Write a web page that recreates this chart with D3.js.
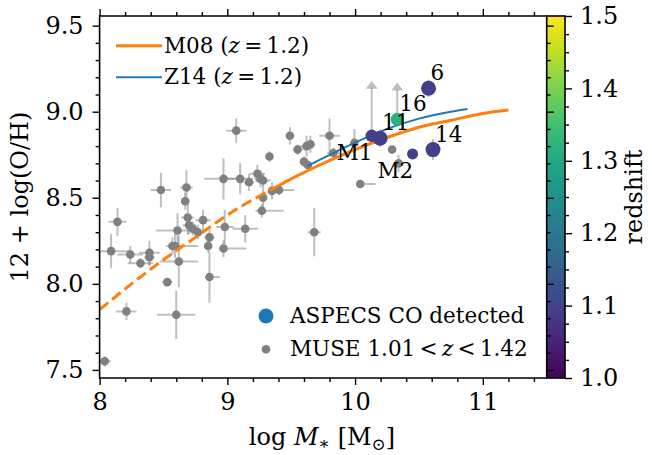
<!DOCTYPE html>
<html>
<head>
<meta charset="utf-8">
<script src="https://cdn.jsdelivr.net/npm/d3@7"></script>
<style>
  body { margin: 0; background: #fff; }
  svg text { font-family: "DejaVu Serif", serif; fill: #000; }
</style>
</head>
<body>
<svg id="chart" width="652" height="455"></svg>
<script>
// MUSE galaxies, 1.01 < z < 1.42
const museX = [9.07, 9.49, 9.55, 9.62, 9.65, 9.80, 9.995, 9.33, 9.60, 9.63, 9.83, 10.29, 10.34, 10.04,
  8.97, 9.10, 9.17, 9.235, 9.26, 9.28, 9.35, 9.405, 9.28, 9.27, 8.48, 8.68, 8.67, 8.14, 8.69, 8.81,
  8.61, 8.70, 8.73, 8.77, 8.86, 8.85, 8.98, 8.97, 9.14, 9.68, 8.09, 8.24, 8.32, 8.39, 8.39, 8.57,
  8.59, 8.62, 8.53, 8.21, 8.60, 8.04, 8.86];
const museY = [8.89, 8.86, 8.78, 8.80, 8.81, 8.86, 8.82, 8.74, 8.71, 8.69, 8.76, 8.78, 8.70, 8.58,
  8.61, 8.61, 8.59, 8.64, 8.61, 8.60, 8.54, 8.545, 8.50, 8.425, 8.545, 8.56, 8.48, 8.36, 8.385, 8.37,
  8.31, 8.34, 8.32, 8.30, 8.27, 8.22, 8.33, 8.205, 8.32, 8.30, 8.19, 8.17, 8.12, 8.18, 8.155, 8.22,
  8.22, 8.13, 8.01, 7.84, 7.82, 7.55, 8.04];
const museXerrLo = [0.08, 0.03, 0.04, 0.05, 0.04, 0.08, 0.03, 0.03, 0.03, 0.03, 0.05, 0.03, 0.03, 0.0,
  0.15, 0.10, 0.04, 0.06, 0.05, 0.06, 0.03, 0.03, 0.03, 0.05, 0.08, 0.05, 0.03, 0.07, 0.05, 0.06,
  0.17, 0.05, 0.04, 0.05, 0.04, 0.03, 0.07, 0.03, 0.10, 0.05, 0.15, 0.10, 0.10, 0.08, 0.04, 0.05,
  0.05, 0.15, 0.04, 0.08, 0.15, 0.05, 0.03];
const museXerrHi = [0.08, 0.03, 0.04, 0.05, 0.04, 0.08, 0.03, 0.03, 0.03, 0.03, 0.05, 0.03, 0.03, 0.12,
  0.15, 0.10, 0.04, 0.06, 0.05, 0.06, 0.03, 0.12, 0.03, 0.17, 0.08, 0.05, 0.03, 0.07, 0.05, 0.06,
  0.17, 0.05, 0.04, 0.05, 0.04, 0.03, 0.07, 0.18, 0.10, 0.05, 0.15, 0.10, 0.10, 0.08, 0.04, 0.20,
  0.05, 0.15, 0.04, 0.08, 0.15, 0.05, 0.08];
const museYerr = [0.07, 0.05, 0.03, 0.06, 0.05, 0.10, 0.08, 0.03, 0.03, 0.02, 0.03, 0.02, 0.05, 0.01,
  0.12, 0.09, 0.05, 0.05, 0.05, 0.04, 0.05, 0.03, 0.06, 0.04, 0.10, 0.10, 0.05, 0.08, 0.10, 0.06,
  0.10, 0.05, 0.04, 0.04, 0.05, 0.04, 0.10, 0.05, 0.08, 0.14, 0.10, 0.05, 0.03, 0.07, 0.05, 0.05,
  0.07, 0.15, 0.01, 0.05, 0.14, 0.03, 0.15];

// ASPECS CO detected galaxies
const aspecsId = ["6", "16", "11", "14", "M1", "M2"];
const aspecsX = [10.575, 10.33, 10.196, 10.61, 10.13, 10.45];
const aspecsY = [9.136, 8.956, 8.846, 8.78, 8.86, 8.755];
const aspecsZ = [1.095, 1.32, 1.09, 1.095, 1.09, 1.095];
const aspecsYerr = [0.05, 0, 0.05, 0.06, 0, 0];
const aspecsSize = [7.5, 6.5, 7.5, 7.5, 6.2, 5.5];

// lower-limit arrows
const arrowX = [10.13, 10.33];
const arrowFrom = [8.86, 8.956];
const arrowTo = [9.18, 9.17];

// relations at z = 1.2
const m08X = [8.0, 8.25, 8.5, 8.75, 9.0, 9.25, 9.4, 9.5, 9.75, 10.0, 10.25, 10.5, 10.75, 11.0, 11.2];
const m08Y = [7.85, 8.00, 8.14, 8.27, 8.40, 8.51, 8.57, 8.61, 8.70, 8.78, 8.85, 8.91, 8.95, 8.99, 9.01];
const m08DashEnd = 9.4;
const z14X = [9.63, 9.75, 10.0, 10.25, 10.5, 10.75, 10.88];
const z14Y = [8.685, 8.73, 8.82, 8.90, 8.96, 9.00, 9.016];

const xMajor = [8, 9, 10, 11];
const yMajor = [7.5, 8.0, 8.5, 9.0, 9.5];
const zMajor = [1.0, 1.1, 1.2, 1.3, 1.4, 1.5];

const svg = d3.select("#chart");
const pLeft = 99.6, pRight = 546.7, pTop = 16, pBottom = 378;
const cbLeft = 546.7, cbRight = 565;

const x = d3.scaleLinear().domain([8, 11.5]).range([pLeft, pRight]);
const y = d3.scaleLinear().domain([7.453, 9.556]).range([pBottom, pTop]);
const zc = d3.scaleLinear().domain([1.0, 1.5]).range([pBottom, pTop]);
const color = z => d3.interpolateViridis((z - 1.0) / 0.5);

const TICK_FONT = 24;
const LABEL_FONT = 24;
const LEGEND_FONT = 21.5;
const THIN = "\u2009";

const steps = (a, b, s) => d3.range(Math.round((b - a) / s) + 1).map(i => +(a + i * s).toFixed(4));
const near = (arr, v) => arr.some(m => Math.abs(m - v) < 1e-6);
const xMinor = steps(8, 11.4, 0.2).filter(v => !near(xMajor, v));
const yMinor = steps(7.5, 9.5, 0.1).filter(v => !near(yMajor, v));
const zMinor = steps(1.0, 1.5, 0.025).filter(v => !near(zMajor, v));

const plot = svg.append("g");
plot.append("clipPath").attr("id", "clip")
  .append("rect").attr("x", pLeft).attr("y", pTop)
  .attr("width", pRight - pLeft).attr("height", pBottom - pTop);
const inner = plot.append("g").attr("clip-path", "url(#clip)");

// error bars
const museIdx = d3.range(museX.length);
const eb = inner.append("g")
  .attr("stroke", "#808080").attr("stroke-opacity", 0.5).attr("stroke-width", 2);
museIdx.forEach(i => {
  eb.append("line")
    .attr("x1", x(museX[i] - museXerrLo[i])).attr("x2", x(museX[i] + museXerrHi[i]))
    .attr("y1", y(museY[i])).attr("y2", y(museY[i]));
  eb.append("line")
    .attr("x1", x(museX[i])).attr("x2", x(museX[i]))
    .attr("y1", y(museY[i] - museYerr[i])).attr("y2", y(museY[i] + museYerr[i]));
});
aspecsId.forEach((d, i) => {
  if (aspecsYerr[i] > 0) {
    eb.append("line")
      .attr("x1", x(aspecsX[i])).attr("x2", x(aspecsX[i]))
      .attr("y1", y(aspecsY[i] - aspecsYerr[i])).attr("y2", y(aspecsY[i] + aspecsYerr[i]));
  }
});

inner.append("g").selectAll("circle")
  .data(museIdx).join("circle")
  .attr("cx", i => x(museX[i])).attr("cy", i => y(museY[i]))
  .attr("r", 4.3).attr("fill", "#808080");

// relations
const line = d3.line().curve(d3.curveMonotoneX).x(d => x(d[0])).y(d => y(d[1]));
const m08 = m08X.map((v, i) => [v, m08Y[i]]);
inner.append("path")
  .datum(m08.filter(d => d[0] <= m08DashEnd))
  .attr("d", line).attr("fill", "none")
  .attr("stroke", "#ff7f0e").attr("stroke-width", 3).attr("stroke-dasharray", "11,5");
inner.append("path")
  .datum(m08.filter(d => d[0] >= m08DashEnd))
  .attr("d", line).attr("fill", "none")
  .attr("stroke", "#ff7f0e").attr("stroke-width", 3);
inner.append("path")
  .datum(z14X.map((v, i) => [v, z14Y[i]]))
  .attr("d", line).attr("fill", "none")
  .attr("stroke", "#1f77b4").attr("stroke-width", 2);

// lower-limit arrows
const arr = inner.append("g").attr("stroke", "#808080").attr("stroke-opacity", 0.5)
  .attr("fill", "#808080").attr("fill-opacity", 0.5);
arrowX.forEach((v, i) => {
  const px = x(v), tip = y(arrowTo[i]);
  arr.append("line").attr("x1", px).attr("x2", px)
    .attr("y1", y(arrowFrom[i])).attr("y2", tip + 7).attr("stroke-width", 2);
  arr.append("path").attr("stroke", "none")
    .attr("d", `M${px - 6},${tip + 8}L${px},${tip}L${px + 6},${tip + 8}Z`);
});

// ASPECS points
inner.append("g").selectAll("circle")
  .data(aspecsId).join("circle")
  .attr("cx", (d, i) => x(aspecsX[i])).attr("cy", (d, i) => y(aspecsY[i]))
  .attr("r", (d, i) => aspecsSize[i])
  .attr("fill", (d, i) => color(aspecsZ[i]));

// labels
const labelOffset = { num: [2, -8], M: [-35, 24] };
plot.append("g").selectAll("text")
  .data(aspecsId).join("text")
  .attr("x", (d, i) => x(aspecsX[i]) + (d[0] === "M" ? labelOffset.M[0] : labelOffset.num[0]))
  .attr("y", (d, i) => y(aspecsY[i]) + (d[0] === "M" ? labelOffset.M[1] : labelOffset.num[1]))
  .attr("font-size", 21.5)
  .text(d => d);

// axes
function drawAxis(axis, tr, vals, size, labels, pad) {
  const g = svg.append("g").attr("transform", tr)
    .call(axis.tickValues(vals).tickSize(size).tickSizeOuter(0).tickPadding(pad || 8)
      .tickFormat(labels ? labels : () => ""));
  g.select(".domain").remove();
  g.selectAll(".tick line").attr("stroke", "#000").attr("stroke-width", 1.4);
  g.selectAll("text").attr("font-size", TICK_FONT).attr("font-family", "DejaVu Serif");
  return g;
}
drawAxis(d3.axisBottom(x), `translate(0,${pBottom})`, xMajor, 7, d3.format("d"), 8);
drawAxis(d3.axisBottom(x), `translate(0,${pBottom})`, xMinor, 4, null);
drawAxis(d3.axisTop(x), `translate(0,${pTop})`, xMajor, 7, null);
drawAxis(d3.axisTop(x), `translate(0,${pTop})`, xMinor, 4, null);
drawAxis(d3.axisLeft(y), `translate(${pLeft},0)`, yMajor, 7, d3.format(".1f"), 9);
drawAxis(d3.axisLeft(y), `translate(${pLeft},0)`, yMinor, 4, null);

// colorbar
const defs = svg.append("defs");
const grad = defs.append("linearGradient").attr("id", "viridis")
  .attr("x1", 0).attr("y1", 1).attr("x2", 0).attr("y2", 0);
d3.range(0, 1.0001, 0.05).forEach(t => {
  grad.append("stop").attr("offset", t).attr("stop-color", d3.interpolateViridis(t));
});
svg.append("rect").attr("x", cbLeft).attr("y", pTop)
  .attr("width", cbRight - cbLeft).attr("height", pBottom - pTop).attr("fill", "url(#viridis)");

drawAxis(d3.axisRight(y), `translate(${pRight},0)`, yMajor, 7, null);
drawAxis(d3.axisRight(y), `translate(${pRight},0)`, yMinor, 4, null);
drawAxis(d3.axisRight(zc), `translate(${cbRight},0)`, zMajor, 7, d3.format(".1f"), 8);
drawAxis(d3.axisRight(zc), `translate(${cbRight},0)`, zMinor, 4, null);

svg.append("rect").attr("x", cbLeft).attr("y", pTop)
  .attr("width", cbRight - cbLeft).attr("height", pBottom - pTop)
  .attr("fill", "none").attr("stroke", "#000").attr("stroke-width", 1.6);
svg.append("path")
  .attr("d", `M${pRight},${pTop}H${pLeft}V${pBottom}H${pRight}`)
  .attr("fill", "none").attr("stroke", "#000").attr("stroke-width", 1.6);

// axis labels
const xl = svg.append("text").attr("x", 322).attr("y", 445)
  .attr("text-anchor", "middle").attr("font-size", LABEL_FONT);
xl.append("tspan").text("log ");
xl.append("tspan").attr("font-style", "italic").text("M");
xl.append("tspan").attr("font-size", 17).attr("dy", 4).text("∗");
xl.append("tspan").attr("dy", -4).text(" [M");
xl.append("tspan").attr("font-size", 17).attr("dy", 5).text("⊙");
xl.append("tspan").attr("dy", -5).text("]");

svg.append("text").attr("transform", `translate(28,${(pTop + pBottom) / 2}) rotate(-90)`)
  .attr("text-anchor", "middle").attr("font-size", LABEL_FONT).text("12 + log(O/H)");
svg.append("text").attr("transform", `translate(642,${(pTop + pBottom) / 2}) rotate(-90)`)
  .attr("text-anchor", "middle").attr("font-size", LABEL_FONT).text("redshift");

// legend: relations
const leg1 = svg.append("g");
[["#ff7f0e", 3, "M08"], ["#1f77b4", 2, "Z14"]].forEach((d, i) => {
  const ly = 45.7 + i * 31.6;
  leg1.append("line").attr("x1", 116).attr("x2", 162).attr("y1", ly).attr("y2", ly)
    .attr("stroke", d[0]).attr("stroke-width", d[1]);
  const t = leg1.append("text").attr("x", 164).attr("y", ly + 6.8).attr("font-size", LEGEND_FONT);
  t.append("tspan").text(d[2] + " (");
  t.append("tspan").attr("font-style", "italic").text("z");
  t.append("tspan").text(`${THIN}=${THIN}1.2)`);
});

// legend: samples
const leg2 = svg.append("g");
leg2.append("circle").attr("cx", 266).attr("cy", 316).attr("r", 7.5).attr("fill", "#1f77b4");
leg2.append("text").attr("x", 290).attr("y", 323).attr("font-size", LEGEND_FONT).text("ASPECS CO detected");
leg2.append("circle").attr("cx", 266).attr("cy", 349.3).attr("r", 4.3).attr("fill", "#808080");
const t2 = leg2.append("text").attr("x", 290).attr("y", 355.5).attr("font-size", LEGEND_FONT);
t2.append("tspan").text(`MUSE 1.01${THIN}<${THIN}`);
t2.append("tspan").attr("font-style", "italic").text("z");
t2.append("tspan").text(`${THIN}<${THIN}1.42`);
</script>
</body>
</html>
